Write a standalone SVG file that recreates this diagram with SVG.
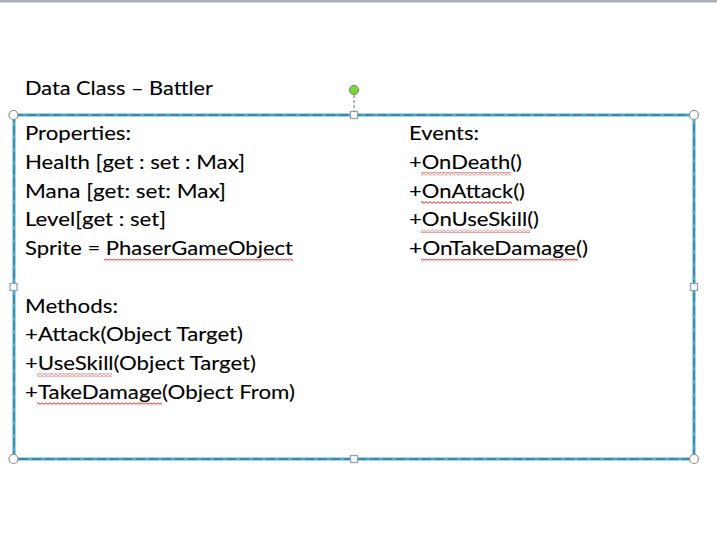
<svg xmlns="http://www.w3.org/2000/svg" width="717" height="539" viewBox="0 0 717 539">
  <style>
    .t { font-family: Lato, "Open Sans", "Liberation Sans", sans-serif; font-size: 18.5px; fill: #000; stroke: #000; stroke-width: 0.1px; }
    .edgeBase { fill: none; stroke: #4bacc6; stroke-width: 3; }
    .edgeDash { fill: none; stroke: #3d7aa6; stroke-width: 1.3; stroke-dasharray: 9 4; }
    .corner { fill: #fff; stroke: #8c8c8c; stroke-width: 1.2; }
    .side { fill: #fff; stroke: #8fa3bd; stroke-width: 1.3; }
    .sq { fill: url(#squiggle); }
  </style>
  <defs>
    <pattern id="squiggle" patternUnits="userSpaceOnUse" x="0" y="0" width="4" height="3">
      <polyline points="0,2.3 2,0.7 4,2.3" fill="none" stroke="#e02424" stroke-width="1"/>
    </pattern>
  </defs>

  <rect x="0" y="0" width="717" height="539" fill="#ffffff"/>
  <rect x="0" y="0" width="717" height="2.5" fill="#abafb3"/>

  <g id="title">
    <text class="t" x="25" y="95" textLength="188" lengthAdjust="spacingAndGlyphs">Data Class – Battler</text>
  </g>

  <g id="battler-class">
    <rect class="edgeBase" x="14" y="115" width="680" height="344"/>
    <rect class="edgeDash" x="14" y="115" width="680" height="344"/>

    <text class="t" x="25" y="140" textLength="106" lengthAdjust="spacingAndGlyphs">Properties:</text>
    <text class="t" x="25" y="168.75" textLength="220" lengthAdjust="spacingAndGlyphs">Health [get : set : Max]</text>
    <text class="t" x="25" y="197.5" textLength="201" lengthAdjust="spacingAndGlyphs">Mana [get: set: Max]</text>
    <text class="t" x="25" y="226.25" textLength="141" lengthAdjust="spacingAndGlyphs">Level[get : set]</text>
    <text class="t" x="25" y="255" textLength="268" lengthAdjust="spacingAndGlyphs">Sprite = PhaserGameObject</text>
    <text class="t" x="25" y="312.5" textLength="93" lengthAdjust="spacingAndGlyphs">Methods:</text>
    <text class="t" x="25" y="341.25" textLength="218" lengthAdjust="spacingAndGlyphs">+Attack(Object Target)</text>
    <text class="t" x="25" y="370" textLength="231" lengthAdjust="spacingAndGlyphs">+UseSkill(Object Target)</text>
    <text class="t" x="25" y="398.75" textLength="270" lengthAdjust="spacingAndGlyphs">+TakeDamage(Object From)</text>

    <text class="t" x="409" y="140" textLength="70" lengthAdjust="spacingAndGlyphs">Events:</text>
    <text class="t" x="409" y="168.75" textLength="113" lengthAdjust="spacingAndGlyphs">+OnDeath()</text>
    <text class="t" x="409" y="197.5" textLength="116" lengthAdjust="spacingAndGlyphs">+OnAttack()</text>
    <text class="t" x="409" y="226.25" textLength="130" lengthAdjust="spacingAndGlyphs">+OnUseSkill()</text>
    <text class="t" x="409" y="255" textLength="179" lengthAdjust="spacingAndGlyphs">+OnTakeDamage()</text>

    <rect class="sq" x="104" y="258.5" width="189" height="3"/>
    <rect class="sq" x="37" y="373.5" width="75" height="3"/>
    <rect class="sq" x="37" y="402.25" width="125" height="3"/>
    <rect class="sq" x="421" y="172.25" width="90" height="3"/>
    <rect class="sq" x="421" y="201" width="91" height="3"/>
    <rect class="sq" x="421" y="229.75" width="109" height="3"/>
    <rect class="sq" x="421" y="258.5" width="157" height="3"/>
  </g>

  <g id="selection-handles">
    <line x1="354" y1="95" x2="354" y2="111" stroke="#707070" stroke-width="1" stroke-dasharray="3 2"/>
    <circle cx="354" cy="90" r="4.6" fill="#7ed23c" stroke="#6a8f55" stroke-width="1"/>
    <circle class="corner" cx="13.5" cy="115" r="4.5"/>
    <circle class="corner" cx="694" cy="115" r="4.5"/>
    <circle class="corner" cx="13.5" cy="459" r="4.5"/>
    <circle class="corner" cx="694" cy="459" r="4.5"/>
    <rect class="side" x="350.5" y="111.5" width="7" height="7"/>
    <rect class="side" x="350.5" y="455.5" width="7" height="7"/>
    <rect class="side" x="10" y="283.5" width="7" height="7"/>
    <rect class="side" x="690.5" y="283.5" width="7" height="7"/>
  </g>
</svg>
